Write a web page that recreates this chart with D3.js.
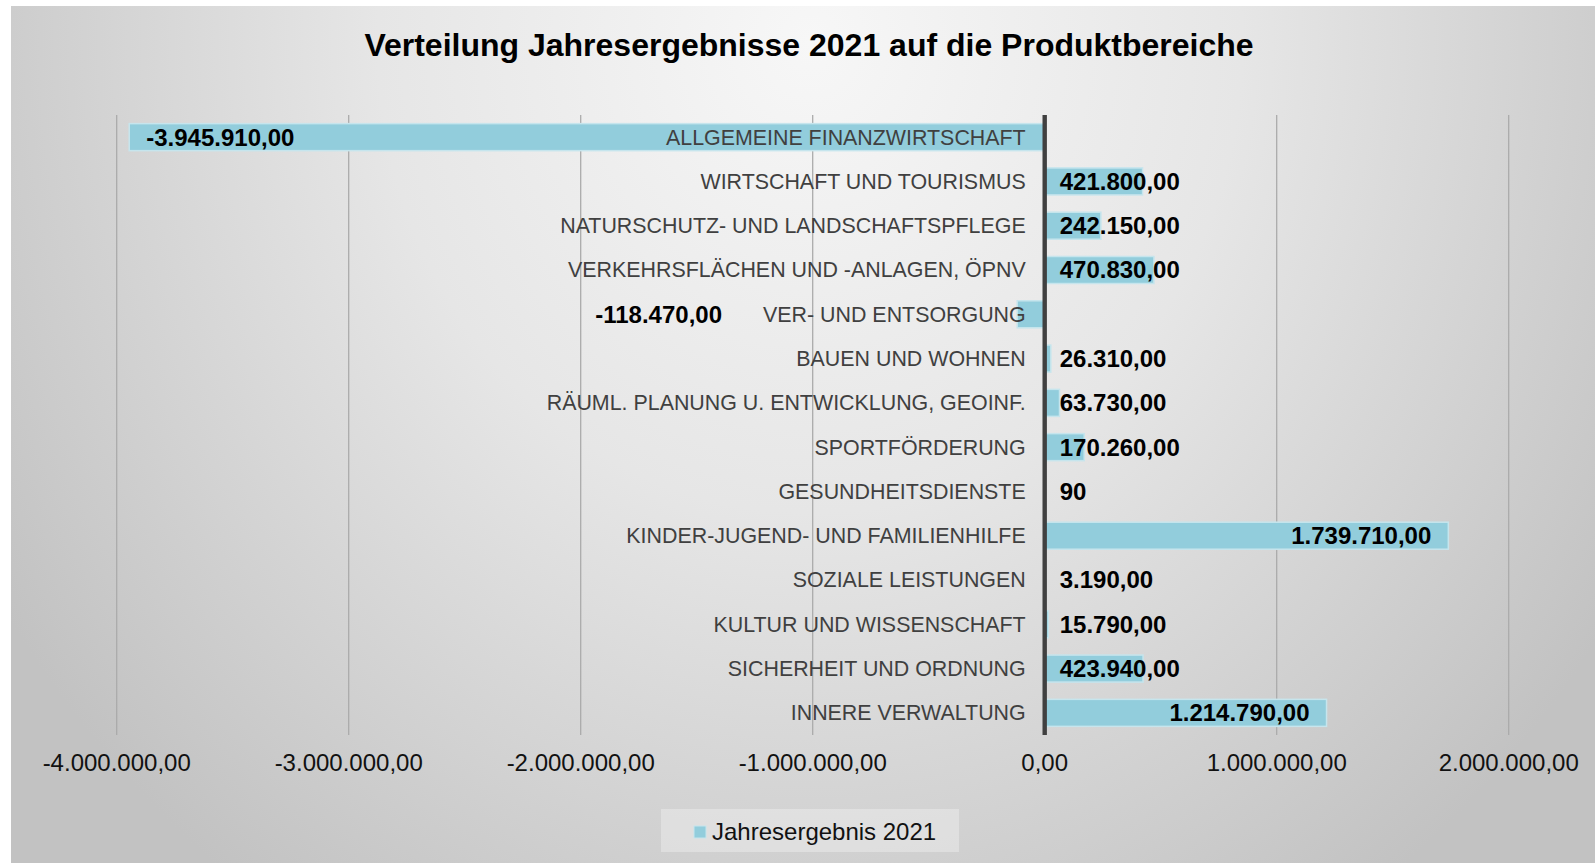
<!DOCTYPE html>
<html>
<head>
<meta charset="utf-8">
<script src="https://cdn.jsdelivr.net/npm/d3@7"></script>
<style>
  html, body { margin: 0; padding: 0; background: #ffffff; }
  svg { display: block; }
  text { font-family: "Liberation Sans", Arial, sans-serif; }
</style>
</head>
<body>
<svg id="chart" width="1595" height="864"></svg>
<script>
const categories = [
  "ALLGEMEINE FINANZWIRTSCHAFT",
  "WIRTSCHAFT UND TOURISMUS",
  "NATURSCHUTZ- UND LANDSCHAFTSPFLEGE",
  "VERKEHRSFLÄCHEN UND -ANLAGEN, ÖPNV",
  "VER- UND ENTSORGUNG",
  "BAUEN UND WOHNEN",
  "RÄUML. PLANUNG U. ENTWICKLUNG, GEOINF.",
  "SPORTFÖRDERUNG",
  "GESUNDHEITSDIENSTE",
  "KINDER-JUGEND- UND FAMILIENHILFE",
  "SOZIALE LEISTUNGEN",
  "KULTUR UND WISSENSCHAFT",
  "SICHERHEIT UND ORDNUNG",
  "INNERE VERWALTUNG"
];
const values2021 = [-3945910, 421800, 242150, 470830, -118470, 26310, 63730, 170260, 90, 1739710, 3190, 15790, 423940, 1214790];
const valueLabels = ["-3.945.910,00", "421.800,00", "242.150,00", "470.830,00", "-118.470,00", "26.310,00", "63.730,00", "170.260,00", "90", "1.739.710,00", "3.190,00", "15.790,00", "423.940,00", "1.214.790,00"];
const tickValues = [-4000000, -3000000, -2000000, -1000000, 0, 1000000, 2000000];
const seriesName = "Jahresergebnis 2021";
const chartTitle = "Verteilung Jahresergebnisse 2021 auf die Produktbereiche";

const locale = d3.formatLocale({decimal: ",", thousands: ".", grouping: [3], currency: ["", " €"], minus: "-"});
const fmt = locale.format(",.2f");

const svg = d3.select("#chart");
const W = 1595, H = 864;

// background
const defs = svg.append("defs");
const grad = defs.append("radialGradient")
  .attr("id", "bg").attr("gradientUnits", "userSpaceOnUse")
  .attr("cx", 810).attr("cy", 40).attr("r", 1)
  .attr("gradientTransform", "translate(810,40) scale(960,1050) translate(-810,-40)");
grad.append("stop").attr("offset", "0").attr("stop-color", "#f7f7f7");
grad.append("stop").attr("offset", "0.45").attr("stop-color", "#e6e6e6");
grad.append("stop").attr("offset", "1").attr("stop-color", "#c2c2c2");
svg.append("rect").attr("x", 11).attr("y", 6).attr("width", W - 11).attr("height", H - 6 - 1)
  .attr("fill", "url(#bg)");

const x = d3.scaleLinear().domain([-4000000, 2000000]).range([116.7, 1508.7]);
const y = d3.scaleBand().domain(categories).range([115, 735]).paddingInner(0.39).paddingOuter(0.195);

// gridlines
svg.append("g").selectAll("line").data(tickValues.filter(d => d !== 0)).join("line")
  .attr("x1", d => x(d)).attr("x2", d => x(d))
  .attr("y1", 115).attr("y2", 735)
  .attr("stroke", "#ababab").attr("stroke-width", 1.3);

// tick labels
svg.append("g").selectAll("text").data(tickValues).join("text")
  .attr("x", d => x(d)).attr("y", 763).attr("dy", "0.35em")
  .attr("text-anchor", "middle").attr("font-size", 24).attr("fill", "#111")
  .text(d => fmt(d));

const data = categories.map((c, i) => ({cat: c, v: values2021[i], label: valueLabels[i]}));

// bars
svg.append("g").selectAll("rect").data(data).join("rect")
  .attr("x", d => Math.min(x(0), x(d.v)))
  .attr("y", d => y(d.cat))
  .attr("width", d => Math.abs(x(d.v) - x(0)))
  .attr("height", y.bandwidth())
  .attr("fill", "#92cddc")
  .attr("stroke", "#c6e5ed").attr("stroke-width", 1.5);

// category labels
const catG = svg.append("g");
const catTexts = catG.selectAll("text").data(data).join("text")
  .attr("x", x(0) - 19).attr("y", d => y(d.cat) + y.bandwidth() / 2).attr("dy", "0.35em")
  .attr("text-anchor", "end").attr("font-size", 21.4).attr("fill", "#404040")
  .text(d => d.cat);

// zero axis line
svg.append("line").attr("x1", x(0)).attr("x2", x(0)).attr("y1", 115).attr("y2", 735)
  .attr("stroke", "#404040").attr("stroke-width", 4.4);

// value labels
const catWidths = {};
catTexts.each(function(d) { catWidths[d.cat] = this.getComputedTextLength(); });
svg.append("g").selectAll("text").data(data).join("text")
  .attr("y", d => y(d.cat) + y.bandwidth() / 2).attr("dy", "0.35em")
  .attr("font-size", 24).attr("font-weight", "bold").attr("fill", "#000")
  .each(function(d) {
    const t = d3.select(this);
    const big = Math.abs(d.v) >= 1000000;
    if (d.v >= 0 && !big) {
      t.attr("x", x(0) + 15).attr("text-anchor", "start");
    } else if (d.v >= 0 && big) {
      t.attr("x", x(d.v) - 17).attr("text-anchor", "end");
    } else if (big) {
      t.attr("x", x(d.v) + 17).attr("text-anchor", "start");
    } else {
      t.attr("x", x(0) - 19 - catWidths[d.cat] - 41).attr("text-anchor", "end");
    }
  })
  .text(d => d.label);

// title
svg.append("text").attr("x", 809).attr("y", 45).attr("dy", "0.35em")
  .attr("text-anchor", "middle").attr("font-size", 32).attr("font-weight", "bold").attr("fill", "#000")
  .text(chartTitle);

// legend
const lg = svg.append("g");
lg.append("rect").attr("x", 661).attr("y", 809).attr("width", 298).attr("height", 43)
  .attr("fill", "#ffffff").attr("fill-opacity", 0.3);
lg.append("rect").attr("x", 694).attr("y", 826).attr("width", 12).attr("height", 12)
  .attr("fill", "#92cddc").attr("stroke", "#c6e5ed").attr("stroke-width", 1);
lg.append("text").attr("x", 712).attr("y", 832).attr("dy", "0.35em")
  .attr("font-size", 24).attr("fill", "#111").text(seriesName);
</script>
</body>
</html>
